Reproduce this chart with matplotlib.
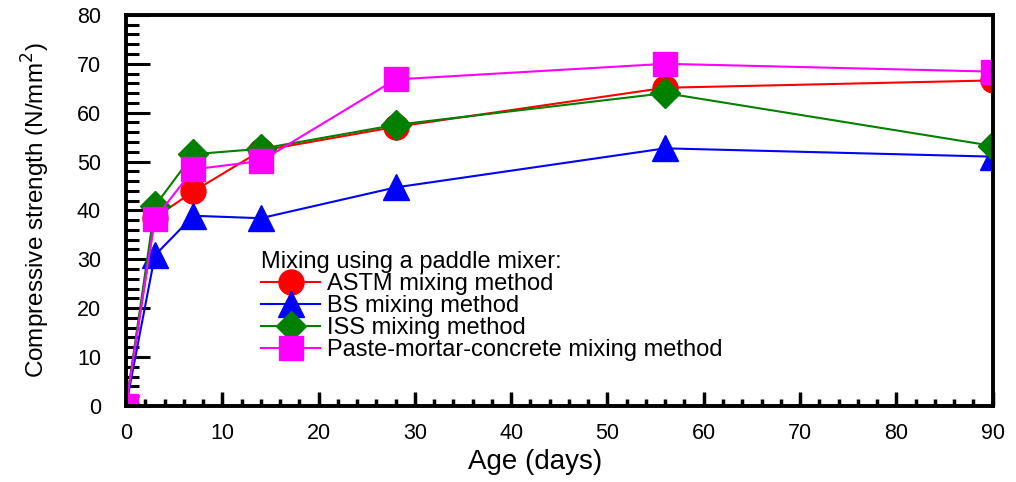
import matplotlib
matplotlib.use("Agg")
import matplotlib.pyplot as plt
from matplotlib.ticker import MultipleLocator

# data
age = [0, 3, 7, 14, 28, 56, 90]
astm = [0, 38.5, 43.9, 52.2, 57.1, 65.1, 66.6]
bs = [0, 30.8, 38.9, 38.4, 44.7, 52.7, 51.0]
iss = [0, 40.9, 51.5, 52.6, 57.5, 64.0, 53.2]
pmc = [0, 38.3, 48.4, 50.1, 66.8, 70.0, 68.4]

series = [
    ("ASTM mixing method", astm, "red", "o", 18),
    ("BS mixing method", bs, "blue", "^", 19),
    ("ISS mixing method", iss, "green", "D", 15),
    ("Paste-mortar-concrete mixing method", pmc, "magenta", "s", 17),
]

plt.rcParams['font.family'] = ['Liberation Sans', 'DejaVu Sans']

fig = plt.figure(figsize=(10.16, 4.82), dpi=100)
ax = fig.add_axes([0.124, 0.158, 0.853, 0.811])

for name, vals, col, mk, ms in series:
    ax.plot(age, vals, color=col, marker=mk, markersize=ms,
            linewidth=1.5, label=name)

ax.set_xlim(0, 90)
ax.set_ylim(0, 80)
ax.xaxis.set_major_locator(MultipleLocator(10))
ax.xaxis.set_minor_locator(MultipleLocator(2))
ax.yaxis.set_major_locator(MultipleLocator(10))
ax.yaxis.set_minor_locator(MultipleLocator(2))
ax.tick_params(axis="x", which="major", direction="in", length=10, width=2.5, labelsize=15.5, pad=12)
ax.tick_params(axis="x", which="minor", direction="in", length=5, width=2.5)
ax.tick_params(axis="y", which="major", direction="in", length=17, width=2.2, labelsize=15.5, pad=18)
ax.tick_params(axis="y", which="minor", direction="in", length=9, width=2.2)
for s in ax.spines.values():
    s.set_linewidth(2.8)

ax.set_xlabel("Age (days)", fontsize=20)
ax.xaxis.set_label_coords(0.472, -0.11)
ax.set_ylabel("Compressive strength (N/mm$^2$)", fontsize=17.5)
ax.yaxis.set_label_coords(-0.085, 0.5)

leg = ax.legend(title="Mixing using a paddle mixer:", loc="lower left",
                bbox_to_anchor=(0.145, 0.09), frameon=False, fontsize=17,
                title_fontsize=17, handlelength=2.5, handletextpad=0.3,
                labelspacing=0.0, borderaxespad=0)
leg._legend_box.align = "left"

fig.savefig("out.png", dpi=100)
